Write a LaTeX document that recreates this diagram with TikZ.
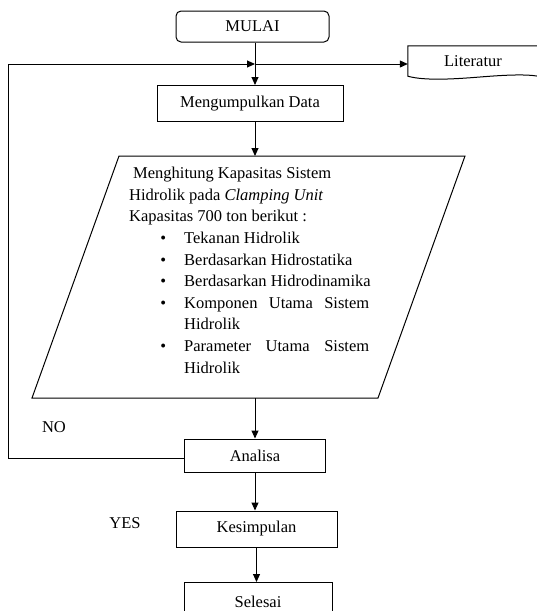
\documentclass[tikz,border=0pt]{standalone}
\usepackage{fontspec}
\setmainfont{Liberation Serif}
\usetikzlibrary{arrows.meta}

\begin{document}
\begin{tikzpicture}[x=1pt,y=-1pt,font=\fontsize{16.5}{21.6}\selectfont]
        % Define styles
        \tikzset{
            terminal/.style={rectangle, rounded corners=5pt, draw, line width=1pt, inner sep=0pt},
            process/.style={rectangle, draw, line width=1pt, inner sep=0pt},
            outline/.style={line width=1pt},
            arrow/.style={-{Triangle[length=8pt,width=7pt]}, line width=1pt}
        }
        \useasboundingbox (0,0) rectangle (536,611);

        % Nodes
        \node[terminal, minimum width=153pt, minimum height=31pt] (mulai_node) at (252.5,26.5) {MULAI};
        \coordinate (junction) at (255,64);
        \coordinate (loop_left) at (8,64);
        \node[minimum width=130pt, minimum height=30pt, inner sep=0pt] (lit_node) at (473,61) {Literatur};
        \node[process, minimum width=186pt, minimum height=36pt] (data_node) at (250,103.5) {Mengumpulkan Data};

        % Parallelogram
        \coordinate (calc_nw) at (119,156);
        \coordinate (calc_ne) at (465,156);
        \coordinate (calc_se) at (378,398);
        \coordinate (calc_sw) at (32,398);
        \draw[outline] (calc_nw) -- (calc_ne) -- (calc_se) -- (calc_sw) -- cycle;
        \node[anchor=north west, inner sep=0pt] (calc_text) at (129,167) {\begin{minipage}{240pt}
            \hyphenpenalty=10000 \tolerance=9999
            \hspace*{4pt}Menghitung Kapasitas Sistem\\
            Hidrolik pada \textit{Clamping Unit}\\
            Kapasitas 700 ton berikut :
            \begin{list}{\textbullet}{\leftmargin=55pt \labelwidth=7pt \labelsep=18pt \itemsep=0pt \parsep=0pt \topsep=0pt \partopsep=0pt}
                \item Tekanan Hidrolik
                \item Berdasarkan Hidrostatika
                \item \mbox{Berdasarkan Hidrodinamika}\kern-6pt
                \item Komponen Utama Sistem Hidrolik
                \item Parameter Utama Sistem Hidrolik
            \end{list}
        \end{minipage}};

        \node[process, minimum width=141pt, minimum height=33pt] (anal_node) at (255,455.5) {Analisa};
        \node[process, minimum width=161pt, minimum height=36pt] (kes_node) at (256.5,529) {Kesimpulan};
        \node[process, minimum width=148pt, minimum height=38pt, anchor=north] (sel_node) at (258,582) {Selesai};
        \node (no_label) at (54,427) {NO};
        \node (yes_label) at (125,523) {YES};

        % Literatur document shape
        \draw[outline] (lit_node.north east) -- (lit_node.north west) -- (lit_node.south west)
            .. controls (425,81) and (455,79) .. (480,77) .. controls (505,75) and (525,74) .. (lit_node.south east);

        % Arrows
        \draw[outline] (mulai_node.south -| junction) -- (junction);
        \draw[arrow] (junction) -- (data_node.north -| junction);
        \draw[arrow] (junction) -- (lit_node.west |- junction);
        \draw[arrow] (data_node.south -| junction) -- (calc_nw -| junction);
        \draw[arrow] (calc_sw -| anal_node) -- (anal_node.north);
        \draw[arrow] (anal_node.south) -- (anal_node.south |- kes_node.north);
        \draw[arrow] (kes_node.south) -- (kes_node.south |- sel_node.north);
        \draw[arrow] (anal_node.west |- 0,458) -| (loop_left) -- (junction);
\end{tikzpicture}
\end{document}
